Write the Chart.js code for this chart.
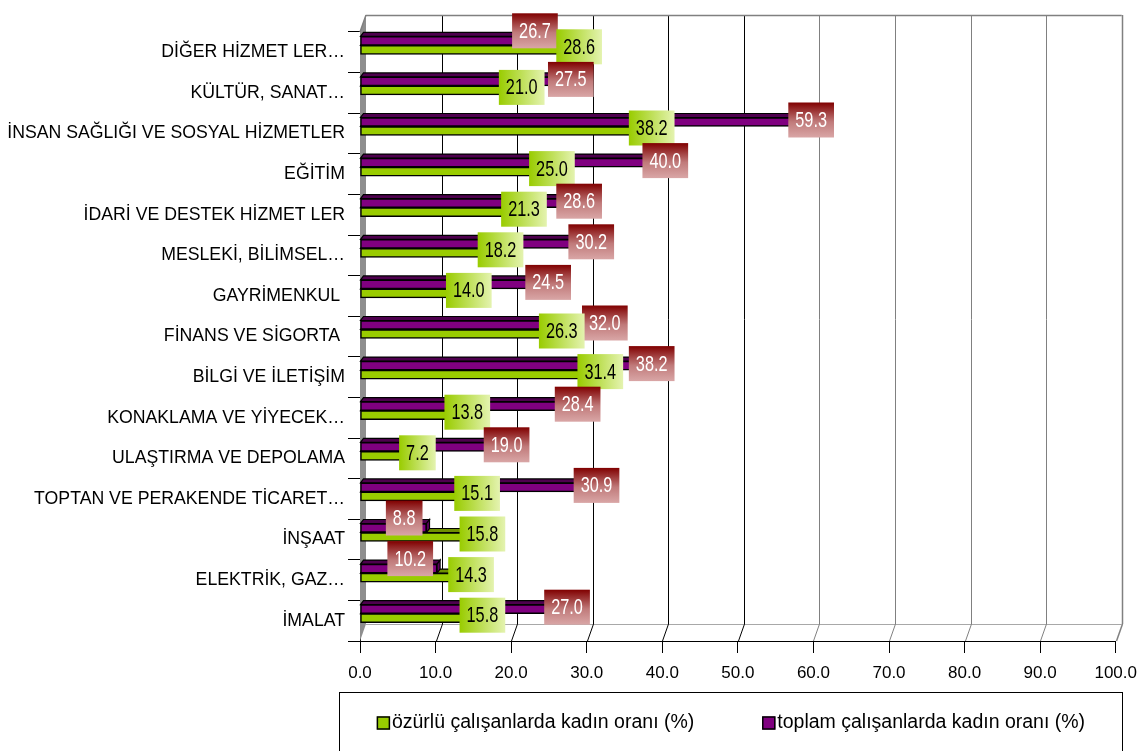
<!DOCTYPE html>
<html><head><meta charset="utf-8">
<script src="https://cdn.jsdelivr.net/npm/chart.js@4.4.1/dist/chart.umd.min.js"></script>
<style>html,body{margin:0;padding:0;background:#fff;}#wrap{width:1147px;height:751px;position:relative;}</style>
</head><body><div id="wrap"><canvas id="c"></canvas></div>
<script>
// ---- data (top to bottom, as shown) ----
const categories = [
  'DİĞER HİZMET LER…', 'KÜLTÜR, SANAT…', 'İNSAN SAĞLIĞI VE SOSYAL HİZMETLER', 'EĞİTİM',
  'İDARİ VE DESTEK HİZMET LER', 'MESLEKİ, BİLİMSEL…', 'GAYRİMENKUL ', 'FİNANS VE SİGORTA ',
  'BİLGİ VE İLETİŞİM', 'KONAKLAMA VE YİYECEK…', 'ULAŞTIRMA VE DEPOLAMA',
  'TOPTAN VE PERAKENDE TİCARET…', 'İNŞAAT', 'ELEKTRİK, GAZ…', 'İMALAT'
];
const disabledWomen = [28.6, 21.0, 38.2, 25.0, 21.3, 18.2, 14.0, 26.3, 31.4, 13.8, 7.2, 15.1, 15.8, 14.3, 15.8];
const totalWomen    = [26.7, 27.5, 59.3, 40.0, 28.6, 30.2, 24.5, 32.0, 38.2, 28.4, 19.0, 30.9, 8.8, 10.2, 27.0];
const seriesNames = ['özürlü çalışanlarda kadın oranı (%)', 'toplam çalışanlarda kadın oranı (%)'];
const xTickLabels = ['0.0','10.0','20.0','30.0','40.0','50.0','60.0','70.0','80.0','90.0','100.0'];

const FONT = "'Liberation Sans', Arial, sans-serif";
const GREEN = '#99cc00', PURPLE = '#800080';
const DX = 6, DY = 17, BAR_SHIFT = -7, FACE = 4, FACE_DX = 3;
const LABEL_FONT = 22, LABEL_SX = 0.74, LABEL_PAD = 7;

function line(ctx, x1, y1, x2, y2) { ctx.beginPath(); ctx.moveTo(x1, y1); ctx.lineTo(x2, y2); ctx.stroke(); }
function poly(ctx, pts) {
  ctx.beginPath(); ctx.moveTo(pts[0][0], pts[0][1]);
  for (let i = 1; i < pts.length; i++) ctx.lineTo(pts[i][0], pts[i][1]);
  ctx.closePath(); ctx.fill(); ctx.stroke();
}

const threeD = {
  id: 'threeD',
  afterDatasetsUpdate(chart) {
    chart.data.datasets.forEach((ds, i) => {
      chart.getDatasetMeta(i).data.forEach(el => { el.y += BAR_SHIFT; });
    });
  },
  beforeDatasetsDraw(chart) {
    const { ctx, chartArea: a, scales: { x } } = chart;
    ctx.save();
    ctx.fillStyle = '#8e8e8e';
    ctx.beginPath();
    ctx.moveTo(a.left, a.top); ctx.lineTo(a.left + DX, a.top - DY);
    ctx.lineTo(a.left + DX, a.bottom - DY); ctx.lineTo(a.left, a.bottom);
    ctx.closePath(); ctx.fill();
    ctx.lineWidth = 1; ctx.strokeStyle = '#a8a8a8';
    line(ctx, a.left + DX, Math.round(a.bottom - DY) + 0.5, a.right + DX, Math.round(a.bottom - DY) + 0.5);
    x.ticks.forEach(t => {
      if (t.value === 0) return;
      const px = Math.round(x.getPixelForValue(t.value)) + 0.5;
      ctx.strokeStyle = t.value <= 50 ? '#000' : '#808080';
      ctx.lineWidth = t.value === 100 ? 1.5 : 1;
      line(ctx, px + DX, a.top - DY, px + DX, a.bottom - DY);
      line(ctx, px + DX, a.bottom - DY, px, a.bottom);
    });
    ctx.strokeStyle = '#808080'; ctx.lineWidth = 1.5;
    line(ctx, a.left + DX, a.top - DY + 0.5, a.right + DX, a.top - DY + 0.5);
    line(ctx, a.left, a.top, a.left + DX, a.top - DY);
    [[1, '#6f9000', '#7fa300'], [0, '#4e004e', '#5e005e']].forEach(([di, topC, sideC]) => {
      chart.getDatasetMeta(di).data.forEach(el => {
        const x0 = el.base, x1 = el.x, yT = el.y - el.height / 2, yB = el.y + el.height / 2;
        ctx.strokeStyle = '#000'; ctx.lineWidth = 1.2;
        ctx.fillStyle = topC;
        poly(ctx, [[x0, yT], [x1, yT], [x1 + FACE_DX, yT - FACE], [x0 + FACE_DX, yT - FACE]]);
        ctx.fillStyle = sideC;
        poly(ctx, [[x1, yT], [x1 + FACE_DX, yT - FACE], [x1 + FACE_DX, yB - FACE], [x1, yB]]);
      });
    });
    ctx.restore();
  }
};

function labelWidth(ctx, text) {
  ctx.font = LABEL_FONT + 'px ' + FONT;
  return ctx.measureText(text).width * LABEL_SX + 2 * LABEL_PAD;
}
function drawLabel(ctx, text, cx, cy, kind) {
  const w = labelWidth(ctx, text), h = 35;
  const x0 = cx - w / 2, y0 = cy - h / 2;
  let g;
  if (kind === 'green') {
    g = ctx.createLinearGradient(x0, 0, x0 + w, 0);
    g.addColorStop(0, '#99cc00'); g.addColorStop(1, '#e4f3b0');
  } else {
    g = ctx.createLinearGradient(0, y0, 0, y0 + h);
    g.addColorStop(0, '#800000'); g.addColorStop(0.55, '#c07a7a'); g.addColorStop(1, '#d9a6a6');
  }
  ctx.fillStyle = g;
  ctx.fillRect(x0, y0, w, h);
  ctx.save();
  ctx.translate(cx, cy + 1);
  ctx.scale(LABEL_SX, 1);
  ctx.fillStyle = kind === 'green' ? '#000' : '#fff';
  ctx.textAlign = 'center'; ctx.textBaseline = 'middle';
  ctx.fillText(text, 0, 0);
  ctx.restore();
}

const valueLabels = {
  id: 'valueLabels',
  afterDatasetsDraw(chart) {
    const ctx = chart.ctx;
    const pm = chart.getDatasetMeta(0).data, gm = chart.getDatasetMeta(1).data;
    ctx.save();
    categories.forEach((c, i) => {
      const pv = totalWomen[i], gv = disabledWomen[i];
      const pe = pm[i], ge = gm[i];
      const pt = pv.toFixed(1);
      const pw = labelWidth(ctx, pt);
      if (pv < gv) drawLabel(ctx, pt, pe.x - 4 - pw / 2, pe.y - 10, 'purple');
      else drawLabel(ctx, pt, pe.x + 3, pe.y - 2, 'purple');
      drawLabel(ctx, gv.toFixed(1), ge.x + 3, ge.y - 3, 'green');
    });
    ctx.restore();
  }
};

const legendBox = {
  id: 'legendBox',
  afterDraw(chart) {
    const ctx = chart.ctx;
    ctx.save();
    ctx.strokeStyle = '#000'; ctx.lineWidth = 1;
    ctx.strokeRect(339.5, 692.5, 783, 80);
    ctx.font = '19.5px ' + FONT;
    const items = [[seriesNames[0], GREEN], [seriesNames[1], PURPLE]];
    const widths = items.map(it => ctx.measureText(it[0]).width);
    const gap = 68, sq = 13;
    const total = widths[0] + widths[1] + 2 * (sq + 2) + gap;
    let xx = 731 - total / 2;
    const yc = 723;
    items.forEach((it, k) => {
      ctx.fillStyle = it[1]; ctx.strokeStyle = '#000'; ctx.lineWidth = 1.5;
      ctx.fillRect(xx, yc - 6.5, sq, sq); ctx.strokeRect(xx + 0.5, yc - 6, sq - 1, sq - 1);
      ctx.fillStyle = '#000'; ctx.textAlign = 'left'; ctx.textBaseline = 'middle';
      ctx.fillText(it[0], xx + sq + 2, yc);
      xx += sq + 2 + widths[k] + gap;
    });
    ctx.restore();
  }
};

new Chart(document.getElementById('c'), {
  type: 'bar',
  data: {
    labels: categories,
    datasets: [
      { label: seriesNames[1], data: totalWomen, backgroundColor: PURPLE, borderColor: '#000', borderWidth: 1.5, borderSkipped: false },
      { label: seriesNames[0], data: disabledWomen, backgroundColor: GREEN, borderColor: '#000', borderWidth: 1.5, borderSkipped: false }
    ]
  },
  options: {
    indexAxis: 'y',
    responsive: true,
    maintainAspectRatio: false,
    devicePixelRatio: 1,
    animation: false,
    barThickness: 9,
    layout: { padding: { left: 0, top: 32, right: 27, bottom: 0 } },
    plugins: { legend: { display: false }, tooltip: { enabled: false } },
    scales: {
      x: {
        min: 0, max: 100,
        ticks: {
          stepSize: 10, color: '#000', padding: 10,
          font: { family: FONT, size: 17 },
          callback: (v, i) => xTickLabels[i]
        },
        grid: { drawOnChartArea: false, tickLength: 12, color: '#000', tickColor: '#000' },
        border: { display: true, color: '#000', width: 1 },
        afterFit: s => { s.height = 110; }
      },
      y: {
        ticks: { color: '#000', padding: 3, autoSkip: false, font: { family: FONT, size: 17.7 } },
        grid: { drawOnChartArea: false, offset: true, tickLength: 12, color: '#000', tickColor: '#000' },
        border: { display: true, color: '#000', width: 1 },
        afterFit: s => { s.width = 360; }
      }
    }
  },
  plugins: [threeD, valueLabels, legendBox]
});
</script>
</body></html>
